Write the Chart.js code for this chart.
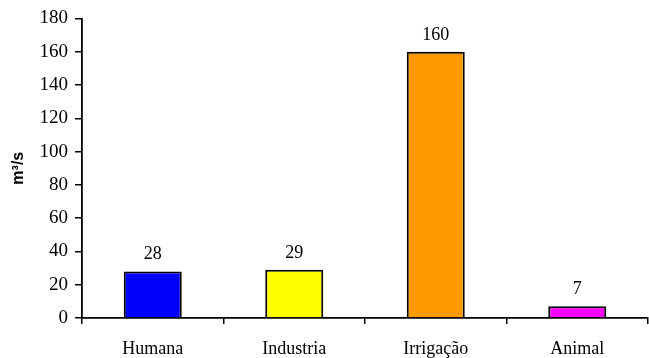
<!DOCTYPE html>
<html>
<head>
<meta charset="utf-8">
<script src="https://cdn.jsdelivr.net/npm/chart.js@4/dist/chart.umd.min.js"></script>
<style>
  html, body { margin: 0; padding: 0; background: #fff; }
  #wrap { width: 649px; height: 358px; position: relative; }
</style>
</head>
<body>
<div id="wrap"><canvas id="chart"></canvas></div>
<script>
const categories = ['Humana', 'Industria', 'Irrigação', 'Animal'];
const valores = [28, 29, 160, 7];
const cores = ['#0000ff', '#ffff00', '#ff9900', '#ff00ff'];
const yMax = 180;
const yStep = 20;

// rótulos em cima das barras
const valueLabels = {
    id: 'valueLabels',
    afterDatasetsDraw(chart) {
        const ctx = chart.ctx;
        const meta = chart.getDatasetMeta(0);
        ctx.save();
        ctx.font = '18px "Liberation Serif", "Times New Roman", serif';
        ctx.fillStyle = '#000';
        ctx.textAlign = 'center';
        ctx.textBaseline = 'alphabetic';
        meta.data.forEach((bar, i) => {
            ctx.fillText(valores[i], bar.x, bar.y - 12);
        });
        ctx.restore();
    }
};

const serif = { family: '"Liberation Serif", "Times New Roman", serif', size: 18 };

new Chart(document.getElementById('chart'), {
    type: 'bar',
    data: {
        labels: categories,
        datasets: [{
            data: valores,
            backgroundColor: cores,
            borderColor: '#000',
            borderWidth: 2,
            barPercentage: 0.41,
            categoryPercentage: 1
        }]
    },
    options: {
        responsive: true,
        maintainAspectRatio: false,
        animation: false,
        layout: { padding: { top: 18, right: 1, left: 0, bottom: 0 } },
        plugins: {
            legend: { display: false },
            tooltip: { enabled: false }
        },
        scales: {
            x: {
                grid: { drawOnChartArea: false, drawTicks: true, tickLength: 6, color: '#000', lineWidth: 1.5 },
                border: { display: true, color: '#000', width: 1.8 },
                ticks: { color: '#000', font: serif, padding: 14, maxRotation: 0 },
                afterFit(scale) { scale.height = 40; }
            },
            y: {
                min: 0,
                max: yMax,
                grid: { drawOnChartArea: false, drawTicks: true, tickLength: 7, color: '#000', lineWidth: 1.5 },
                border: { display: true, color: '#000', width: 1.8 },
                ticks: { stepSize: yStep, color: '#000', font: { ...serif, size: 19 }, padding: 7 },
                title: {
                    display: true,
                    text: 'm³/s',
                    color: '#000',
                    font: { family: '"Liberation Sans", Arial, sans-serif', size: 16, weight: 'bold' },
                    padding: { top: 9, bottom: 0 }
                },
                afterFit(scale) { scale.width = 82; }
            }
        }
    },
    plugins: [valueLabels]
});
</script>
</body>
</html>
